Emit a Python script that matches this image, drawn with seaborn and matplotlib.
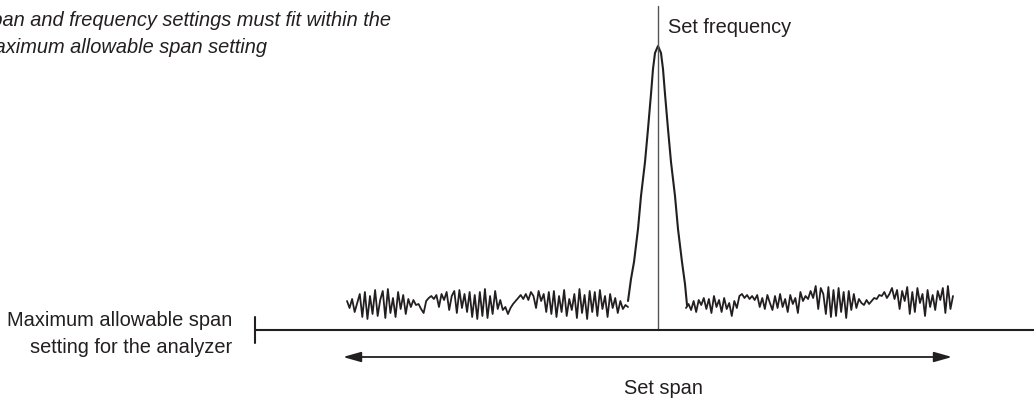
import numpy as np
import matplotlib
matplotlib.use("Agg")
import matplotlib.pyplot as plt
import seaborn as sns

# Diagram data (frequency axis in screen-like units, level axis upward)
noise_level = 97
noise_left_start, noise_left_end = 347, 628
noise_right_start, noise_right_end = 686, 953

noise_left = [3, -4, 5, -8, 1, 10, -13, 12, -15, 8, -10, 14, -12, 4, 13, -14, 15, -9, 6, -13, 12, -5, 9, -10, 5,
              -3, 4, -1, 0, -5, -9, 3, 6,
              8, 5, 9, -3, 10, 4, 12, -6, 8, 13, -9, 14, -4, 10, -8, 12,
              -13, 9, -15, 12, -12, 15, -14, 8, -10, 13, -5, 4,
              -6, -3, -10, -4, 0, 3,
              6, 9, 5, 10, 4, 12, 8, -4, 13, 3, 10, -8,
              12, -10, 13, -13, 8, -8, 14, -12, 5, -6, 10, -14, 15, -9, 9, -15, 13, -8, 12, -12, 14, -5, 8,
              -13, 10, -4, 6, -9, 3, -5, -1, -3]
noise_right = [-4, 0, -6, 3, -8, 4, -1, 6, -5, 5, -9, 8, -3, 4, -8, 6, -5, 1, -12, 3, -4,
               8, 10, 6, 9, 5, 8, 4, 9,
               -3, 6, -5, 9, 1, -6, 8, -4, 10, -3, 5, -8, 9, 0, 6, -9, 12, 3, 8, 5,
               13, 6, 18, -5, 16, 10, -10, 17, -13, 14, -12, 16, -8, 12, -14, 13, -6, 10, -4, 5,
               1, -1, 4, 0, 3, 6, 5, 9, 8, 12, 6, 10,
               16, 5, 14, -5, 13, 3, 17, -10, 12, -8, 16, 1, 10, -12, 14, -3, 9, -6, 13, 4, 16, -9, 18, -5, 8]

peak_freq = [628, 631, 634, 638, 641, 645, 648, 651, 653, 655, 658,
             661, 663, 665, 668, 671, 675, 678, 682, 685, 687]
peak_level = [100, 122, 139, 172, 205, 239, 272, 307, 332, 348, 355,
              348, 332, 307, 272, 239, 205, 172, 139, 117, 96]

set_frequency = 658
max_span_start = 255
span_start, span_end = 343, 952
axis_level = 71
span_arrow_level = 44

sns.set_style("white")
plt.rcParams['font.family'] = ['Liberation Sans', 'DejaVu Sans']

fig = plt.figure(figsize=(10.34, 4.02), dpi=100)
ax = fig.add_axes([0, 0, 1, 1])
ax.set_xlim(0, 1034)
ax.set_ylim(0, 402)
ax.axis('off')

ink = '#231f20'
fs = 14.4

# Noise floor on both sides of the signal
xl = np.linspace(noise_left_start, noise_left_end, len(noise_left))
xr = np.linspace(noise_right_start, noise_right_end, len(noise_right))
sns.lineplot(x=xl, y=noise_level + np.array(noise_left), ax=ax, color=ink, lw=1.3, sort=False)
sns.lineplot(x=xr, y=noise_level + np.array(noise_right), ax=ax, color=ink, lw=1.3, sort=False)

# Signal peak
sns.lineplot(x=peak_freq, y=peak_level, ax=ax, color=ink, lw=1.5, sort=False)

# Set frequency marker
ax.plot([set_frequency, set_frequency], [axis_level, 395], color='#555555', lw=1.0)
ax.text(668, 369, 'Set frequency', fontsize=fs, color=ink, va='baseline', ha='left')

# Maximum allowable span axis
ax.plot([max_span_start, 1034], [axis_level, axis_level], color=ink, lw=1.5)
ax.plot([max_span_start, max_span_start], [axis_level - 13, axis_level + 13], color=ink, lw=1.5)
ax.text(232, 402 - 326, 'Maximum allowable span', fontsize=fs, color=ink, va='baseline', ha='right')
ax.text(232, 402 - 353, 'setting for the analyzer', fontsize=fs, color=ink, va='baseline', ha='right')

# Set span arrow
ax.annotate('', xy=(span_end, span_arrow_level), xytext=(span_start, span_arrow_level),
            arrowprops=dict(arrowstyle='<|-|>,head_length=0.6,head_width=0.17', color=ink, lw=1.3,
                            mutation_scale=18, shrinkA=0, shrinkB=0))
ax.text(663, 402 - 394, 'Set span', fontsize=fs, color=ink, va='baseline', ha='center')

# Italic caption (clipped on the left, as in the original figure)
ax.text(-22, 402 - 26, 'Span and frequency settings must fit within the',
        fontsize=fs, style='italic', color=ink, va='baseline', ha='left')
ax.text(-22, 402 - 53, 'maximum allowable span setting',
        fontsize=fs, style='italic', color=ink, va='baseline', ha='left')

fig.savefig('out.png', dpi=100)
